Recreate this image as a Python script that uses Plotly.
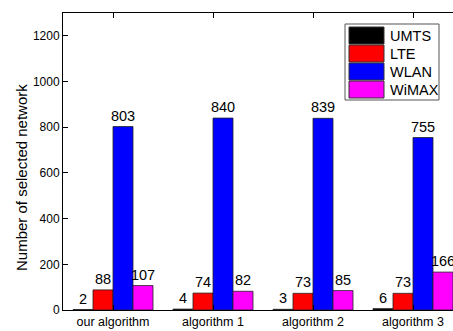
import plotly.graph_objects as go

categories = ["our algorithm", "algorithm 1", "algorithm 2", "algorithm 3"]
series_names = ["UMTS", "LTE", "WLAN", "WiMAX"]
umts = [2, 4, 3, 6]
lte = [88, 74, 73, 73]
wlan = [803, 840, 839, 755]
wimax = [107, 82, 85, 166]
colors = ["#000000", "#ff0000", "#0000ff", "#ff00ff"]
y_ticks = [0, 200, 400, 600, 800, 1000, 1200]
y_title = "Number of selected network"

W, H = 453, 331
ML, MR, MT, MB = 63, 0, 13, 21
PW, PH = W - ML - MR, H - MT - MB
FONT = "Arial, Liberation Sans, sans-serif"

fig = go.Figure()
for name, vals, col in zip(series_names, [umts, lte, wlan, wimax], colors):
    fig.add_trace(go.Bar(
        x=categories, y=vals, name=name,
        marker=dict(color=col, line=dict(color="#222222", width=0.8)),
        text=[str(v) for v in vals], textposition="outside",
        textfont=dict(size=14.5, color="black", family=FONT),
        constraintext="none", textangle=0,
        cliponaxis=False, showlegend=False,
    ))

def px(x):
    return (x - ML) / PW

def py(y):
    return (H - MB - y) / PH

shapes = []
annotations = []
# legend box
shapes.append(dict(type="rect", xref="paper", yref="paper",
                   x0=px(345), x1=px(439), y0=py(100), y1=py(24),
                   line=dict(color="#555555", width=1), fillcolor="white", layer="above"))
row_tops = [27, 45, 63, 81]
for i, (name, col) in enumerate(zip(series_names, colors)):
    t = row_tops[i]
    shapes.append(dict(type="rect", xref="paper", yref="paper",
                       x0=px(349), x1=px(384), y0=py(t + 17), y1=py(t),
                       line=dict(color="#333333", width=1), fillcolor=col, layer="above"))
    annotations.append(dict(xref="paper", yref="paper", x=px(388), y=py(t + 8.5),
                            text=name, showarrow=False, xanchor="left", yanchor="middle",
                            font=dict(size=14.5, color="black", family=FONT)))

annotations.append(dict(xref="paper", yref="paper", x=px(21), y=py(178),
                        text=y_title, textangle=-90, showarrow=False,
                        xanchor="center", yanchor="middle",
                        font=dict(size=15, color="black", family=FONT)))

fig.update_layout(
    width=W, height=H,
    margin=dict(l=ML, r=MR, t=MT, b=MB, autoexpand=False),
    paper_bgcolor="white", plot_bgcolor="white",
    barmode="group", bargap=0.2, bargroupgap=0,
    font=dict(family=FONT, color="black"),
    shapes=shapes, annotations=annotations,
    xaxis=dict(
        range=[-0.5, 3.4], showline=True, linecolor="black", linewidth=1,
        mirror="ticks", ticks="inside", ticklen=5, tickcolor="black",
        tickfont=dict(size=12.5, family=FONT), showgrid=False, automargin=False,
    ),
    yaxis=dict(
        range=[0, 1300], tickvals=y_ticks, showline=True, linecolor="black", linewidth=1,
        ticks="inside", ticklen=5, tickcolor="black", showgrid=False, zeroline=False,
        tickfont=dict(size=12, family=FONT), automargin=False,
    ),
)

fig.write_html("out.html", config={"displayModeBar": False},
               post_script="document.body.style.margin='0px';document.body.style.overflow='hidden';")
